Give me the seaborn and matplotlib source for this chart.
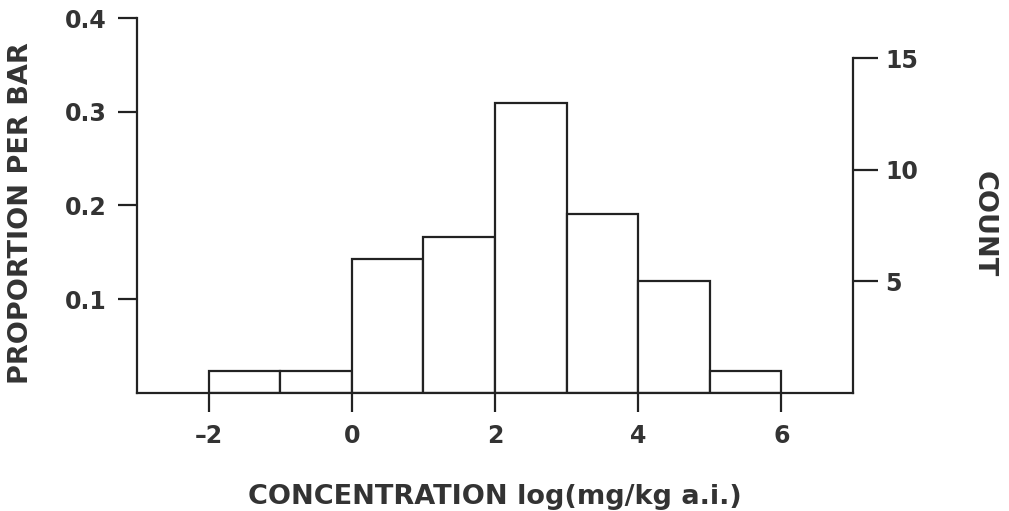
import numpy as np
import pandas as pd
import seaborn as sns
import matplotlib
matplotlib.use("Agg")
import matplotlib.pyplot as plt

# Data
bin_edges = [-2, -1, 0, 1, 2, 3, 4, 5, 6]
counts = [1, 1, 6, 7, 13, 8, 5, 1]
left_ticks = [0.1, 0.2, 0.3, 0.4]
right_ticks = [5, 10, 15]
x_ticks = [-2, 0, 2, 4, 6]

centers = [(a + b) / 2 for a, b in zip(bin_edges[:-1], bin_edges[1:])]
df = pd.DataFrame({"x": centers, "n": counts})
total = sum(counts)

sns.set_theme(style="ticks")
plt.rcParams["font.family"] = ["DejaVu Sans"]
plt.rcParams["font.weight"] = "bold"

TXT = "#333333"
LN = "#222222"

fig = plt.figure(figsize=(10.09, 5.11), dpi=100)
ax = fig.add_axes([137/1009, 1 - 393/511, (853-137)/1009, (393-18)/511])

sns.histplot(data=df, x="x", weights="n", bins=bin_edges, stat="proportion",
             ax=ax, color="white", edgecolor=LN, linewidth=1.6, alpha=1)

ax.set_xlim(-3, 7)
ax.set_ylim(0, 0.4)
ax.set_xticks(x_ticks)
ax.set_xticklabels([str(v).replace("-", "\u2013") for v in x_ticks])
ax.set_yticks(left_ticks)
ax.set_yticklabels([f"{v:.1f}" for v in left_ticks])
ax.set_xlabel("CONCENTRATION log(mg/kg a.i.)", fontsize=19.5, fontweight="bold",
              labelpad=26, color=TXT)
ax.set_ylabel("PROPORTION PER BAR", fontsize=19.5, fontweight="bold",
              labelpad=14, color=TXT)
ax.yaxis.set_label_coords(-0.144, 0.48)
for s in ["top", "right"]:
    ax.spines[s].set_visible(False)
for s in ["left", "bottom"]:
    ax.spines[s].set_linewidth(1.6)
    ax.spines[s].set_color(LN)
ax.tick_params(axis="both", length=14, width=1.6, color=LN, labelsize=17, pad=8)
for lab in ax.get_xticklabels() + ax.get_yticklabels():
    lab.set_fontweight("bold")
    lab.set_color(TXT)

ax2 = ax.twinx()
ax2.set_ylim(0, 0.4 * total)
ax2.set_yticks(right_ticks)
ax2.set_yticklabels([str(v) for v in right_ticks])
ax2.spines["right"].set_bounds(0, 15)
ax2.spines["right"].set_linewidth(1.6)
ax2.spines["right"].set_color(LN)
for s in ["top", "left", "bottom"]:
    ax2.spines[s].set_visible(False)
ax2.tick_params(axis="y", length=18, width=1.6, color=LN, labelsize=17, pad=5)
for lab in ax2.get_yticklabels():
    lab.set_fontweight("bold")
    lab.set_color(TXT)
ax2.set_ylabel("COUNT", fontsize=19.5, fontweight="bold", rotation=-90,
               labelpad=42, color=TXT)
ax2.yaxis.set_label_coords(1.2, 0.45)

fig.savefig("out.png", dpi=100, facecolor="white")
